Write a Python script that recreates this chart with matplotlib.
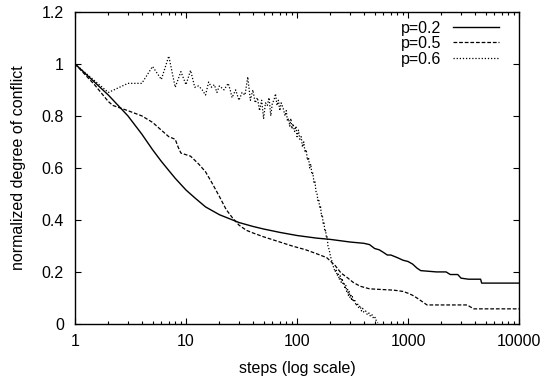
import matplotlib
matplotlib.use("Agg")
import matplotlib.pyplot as plt

# p=0.2 (solid)
steps_02 = [1, 2, 3, 4, 5, 6, 7, 8, 10, 12, 15, 20, 30, 40, 50, 70, 100, 150, 200,
            300, 400, 450, 500, 550, 600, 650, 700, 800, 900, 1000, 1100, 1200,
            1300, 1800, 2200, 2400, 2800, 3000, 3500, 4500, 4600, 10000]
conf_02 = [1.0, 0.88, 0.80, 0.73, 0.67, 0.625, 0.59, 0.56, 0.515, 0.485, 0.45, 0.42,
           0.39, 0.375, 0.365, 0.352, 0.34, 0.33, 0.325, 0.315, 0.31, 0.305, 0.29,
           0.285, 0.275, 0.265, 0.265, 0.255, 0.245, 0.24, 0.23, 0.215, 0.205, 0.2,
           0.2, 0.19, 0.19, 0.176, 0.172, 0.172, 0.157, 0.157]

# p=0.5 (dashed)
steps_05 = [1, 1.5, 2, 2.2, 3, 4, 5, 6, 7, 8, 8.5, 9, 11, 13, 15, 17, 20, 23, 26,
            30, 35, 40, 50, 70, 90, 120, 150, 185, 220, 250, 280, 320, 370, 450,
            600, 740, 900, 1000, 1100, 1200, 1350, 1480, 3400, 3900, 10000]
conf_05 = [1.0, 0.92, 0.855, 0.84, 0.82, 0.80, 0.775, 0.745, 0.72, 0.71, 0.68, 0.657,
           0.645, 0.615, 0.585, 0.545, 0.49, 0.44, 0.41, 0.38, 0.36, 0.35, 0.335,
           0.315, 0.30, 0.285, 0.27, 0.255, 0.225, 0.195, 0.18, 0.16, 0.145, 0.135,
           0.132, 0.13, 0.125, 0.118, 0.11, 0.10, 0.085, 0.073, 0.073, 0.058, 0.058]

# p=0.6 (dotted, noisy)
steps_06 = [1, 2, 3, 4, 5, 6, 7, 8, 9, 10,
            11, 12, 13, 14, 15, 16, 17, 18, 19, 20,
            22, 24, 25, 26, 28, 30, 32, 34, 36, 38,
            40, 42, 44, 46, 48, 50, 52, 54, 56, 58,
            60, 62, 64, 66, 68, 70, 72,
            75, 78, 80, 82, 84, 86, 88, 90, 92, 95,
            98, 100, 103, 106, 109, 112, 115, 118, 121, 124,
            127, 130, 133, 136, 139, 142, 145, 148, 151, 154,
            157, 160, 163, 166, 169, 172, 175, 178, 181, 184,
            187, 190, 195, 200, 205, 210, 215, 220, 225, 230,
            235, 240, 245, 250, 255, 260, 265, 270, 275, 280,
            285, 290, 295, 300, 305, 310, 315, 320, 330, 340,
            350, 360, 370, 380, 390, 400, 415, 430, 445, 460,
            475, 490, 505, 520, 535]
conf_06 = [1.0, 0.89, 0.925, 0.925, 0.99, 0.94, 1.03, 0.91, 0.97, 0.92,
           0.975, 0.91, 0.915, 0.90, 0.88, 0.93, 0.91, 0.92, 0.89, 0.915,
           0.90, 0.925, 0.90, 0.87, 0.90, 0.86, 0.89, 0.88, 0.95, 0.86,
           0.90, 0.85, 0.87, 0.82, 0.86, 0.79, 0.85, 0.84, 0.87, 0.80,
           0.85, 0.86, 0.885, 0.84, 0.86, 0.82, 0.85,
           0.83, 0.80, 0.82, 0.78, 0.79, 0.76, 0.79, 0.75, 0.77, 0.74,
           0.76, 0.72, 0.745, 0.71, 0.72, 0.68, 0.70, 0.66, 0.67, 0.63,
           0.64, 0.60, 0.615, 0.575, 0.58, 0.545, 0.55, 0.51, 0.505, 0.475,
           0.48, 0.445, 0.45, 0.415, 0.42, 0.385, 0.39, 0.355, 0.36, 0.33,
           0.335, 0.30, 0.285, 0.26, 0.245, 0.225, 0.215, 0.20, 0.21, 0.185,
           0.195, 0.17, 0.185, 0.16, 0.175, 0.15, 0.16, 0.135, 0.15, 0.125,
           0.135, 0.11, 0.125, 0.10, 0.115, 0.09, 0.105, 0.085, 0.095, 0.07,
           0.08, 0.06, 0.07, 0.05, 0.06, 0.045, 0.05, 0.035, 0.042, 0.028,
           0.035, 0.02, 0.025, 0.01, 0.005]

xticks = [1, 10, 100, 1000, 10000]
xtick_labels = ["1", "10", "100", "1000", "10000"]
yticks = [0, 0.2, 0.4, 0.6, 0.8, 1.0, 1.2]
ytick_labels = ["0", "0.2", "0.4", "0.6", "0.8", "1", "1.2"]

plt.rcParams.update({
    "font.family": ["Liberation Sans", "DejaVu Sans"],
    "font.size": 11.5,
})

fig = plt.figure(figsize=(5.43, 3.82), dpi=100)
ax = fig.add_axes([0.138, 0.152, 0.818, 0.817])

ax.plot(steps_02, conf_02, color="black", linewidth=1.0, label="p=0.2")
ax.plot(steps_05, conf_05, color="black", linewidth=0.9,
        linestyle=(0, (3, 1.5)), label="p=0.5")
ax.plot(steps_06, conf_06, color="black", linewidth=0.9,
        linestyle=(0, (1, 1.5)), label="p=0.6")

ax.set_xscale("log")
ax.set_xlim(1, 10000)
ax.set_ylim(0, 1.2)
ax.set_xticks(xticks)
ax.set_xticklabels(xtick_labels)
ax.set_yticks(yticks)
ax.set_yticklabels(ytick_labels)

ax.tick_params(which="both", direction="in", top=True, right=True)
ax.tick_params(which="major", length=4.5, width=0.8)
ax.tick_params(axis="x", which="major", pad=7)
ax.tick_params(axis="y", which="major", pad=8)
ax.tick_params(which="minor", length=2.5, width=0.8)

for s in ax.spines.values():
    s.set_linewidth(1.0)

ax.set_xlabel("steps (log scale)", labelpad=9)
ax.set_ylabel("normalized degree of conflict", labelpad=11)

ax.legend(loc="upper right", bbox_to_anchor=(0.955, 0.972), frameon=False,
          markerfirst=False, handlelength=2.9, handletextpad=0.7,
          labelspacing=0.03, borderpad=0, borderaxespad=0)

plt.savefig("out.png", dpi=100)
plt.close()
